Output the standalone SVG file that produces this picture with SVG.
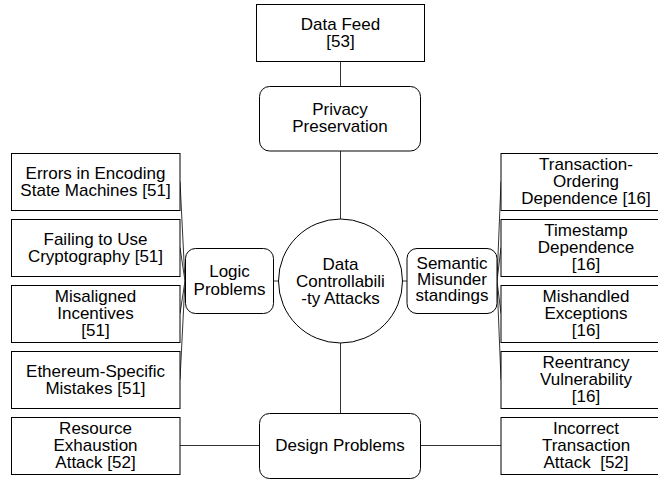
<svg xmlns="http://www.w3.org/2000/svg" width="658" height="480" viewBox="0 0 658 480">
<style>
.box{fill:#fff;stroke:#000;stroke-width:1}
.rbox{fill:#fff;stroke:#000;stroke-width:1}
.conn{stroke:#333;stroke-width:1;fill:none}
text{font-family:"Liberation Sans",Arial,sans-serif;font-size:17px;fill:#000;text-anchor:middle;white-space:pre}
</style>
<rect width="658" height="480" fill="#fff"/>
<g id="connectors">
<line class="conn" x1="340.5" y1="61" x2="340.5" y2="86"/>
<line class="conn" x1="340.5" y1="151" x2="340.5" y2="219"/>
<line class="conn" x1="340.5" y1="343" x2="340.5" y2="413"/>
<line class="conn" x1="273" y1="281" x2="278.5" y2="281"/>
<line class="conn" x1="402.5" y1="281" x2="407" y2="281"/>
<line class="conn" x1="180" y1="181.5" x2="185" y2="281"/>
<line class="conn" x1="180" y1="247.5" x2="185" y2="281"/>
<line class="conn" x1="180" y1="313.5" x2="185" y2="281"/>
<line class="conn" x1="180" y1="379.5" x2="185" y2="281"/>
<line class="conn" x1="501" y1="181.5" x2="497" y2="281"/>
<line class="conn" x1="501" y1="247.5" x2="497" y2="281"/>
<line class="conn" x1="501" y1="313.5" x2="497" y2="281"/>
<line class="conn" x1="501" y1="379.5" x2="497" y2="281"/>
<line class="conn" x1="180" y1="445.5" x2="259" y2="445.5"/>
<line class="conn" x1="420" y1="445.5" x2="501" y2="445.5"/>
</g>
<g id="data-feed">
<rect class="box" x="256.5" y="4.5" width="168" height="57"/>
<text x="340.5"><tspan x="340.5" y="29.5">Data Feed</tspan><tspan x="340.5" y="46.5">[53]</tspan></text>
</g>
<g id="privacy-preservation">
<rect class="rbox" x="259.5" y="86.5" width="161" height="64.5" rx="10"/>
<text><tspan x="340" y="115">Privacy</tspan><tspan x="340" y="132">Preservation</tspan></text>
</g>
<g id="center">
<circle class="box" cx="340.5" cy="281" r="62"/>
<text><tspan x="340.5" y="269.5">Data</tspan><tspan x="340.5" y="286.5">Controllabili</tspan><tspan x="340.5" y="303.5">-ty Attacks</tspan></text>
</g>
<g id="logic-problems">
<rect class="rbox" x="185.5" y="248.5" width="88" height="65" rx="10"/>
<text><tspan x="229.5" y="277">Logic</tspan><tspan x="229.5" y="294.5">Problems</tspan></text>
</g>
<g id="semantic-misunderstandings">
<rect class="rbox" x="407" y="248.5" width="90" height="65" rx="10"/>
<text><tspan x="452" y="268.5">Semantic</tspan><tspan x="452" y="284.5">Misunder</tspan><tspan x="452" y="300.5">standings</tspan></text>
</g>
<g id="design-problems">
<rect class="rbox" x="259.5" y="413.5" width="161" height="65" rx="10"/>
<text x="340" y="451">Design Problems</text>
</g>
<g id="errors-encoding">
<rect class="box" x="11.5" y="153.5" width="168.5" height="57"/>
<text><tspan x="95.5" y="178.5">Errors in Encoding</tspan><tspan x="95.5" y="196">State Machines [51]</tspan></text>
</g>
<g id="failing-crypto">
<rect class="box" x="11.5" y="219.5" width="168.5" height="57"/>
<text><tspan x="95.5" y="244.5">Failing to Use</tspan><tspan x="95.5" y="262">Cryptography [51]</tspan></text>
</g>
<g id="misaligned-incentives">
<rect class="box" x="11.5" y="285.5" width="168.5" height="57"/>
<text><tspan x="95.5" y="301.5">Misaligned</tspan><tspan x="95.5" y="318.5">Incentives</tspan><tspan x="95.5" y="335.5">[51]</tspan></text>
</g>
<g id="ethereum-mistakes">
<rect class="box" x="11.5" y="351.5" width="168.5" height="57"/>
<text><tspan x="95.5" y="376.5">Ethereum-Specific</tspan><tspan x="95.5" y="394">Mistakes [51]</tspan></text>
</g>
<g id="resource-exhaustion">
<rect class="box" x="11.5" y="417.5" width="168.5" height="57"/>
<text><tspan x="95.5" y="434">Resource</tspan><tspan x="95.5" y="451">Exhaustion</tspan><tspan x="95.5" y="468">Attack [52]</tspan></text>
</g>
<g id="transaction-ordering">
<rect class="box" x="501" y="153.5" width="170" height="57"/>
<text><tspan x="586" y="169.5">Transaction-</tspan><tspan x="586" y="186.5">Ordering</tspan><tspan x="586" y="203.5">Dependence [16]</tspan></text>
</g>
<g id="timestamp-dependence">
<rect class="box" x="501" y="219.5" width="170" height="57"/>
<text><tspan x="586" y="235.5">Timestamp</tspan><tspan x="586" y="252.5">Dependence</tspan><tspan x="586" y="269.5">[16]</tspan></text>
</g>
<g id="mishandled-exceptions">
<rect class="box" x="501" y="285.5" width="170" height="57"/>
<text><tspan x="586" y="301.5">Mishandled</tspan><tspan x="586" y="318.5">Exceptions</tspan><tspan x="586" y="335.5">[16]</tspan></text>
</g>
<g id="reentrancy">
<rect class="box" x="501" y="351.5" width="170" height="57"/>
<text><tspan x="586" y="367.5">Reentrancy</tspan><tspan x="586" y="384.5">Vulnerability</tspan><tspan x="586" y="401.5">[16]</tspan></text>
</g>
<g id="incorrect-transaction">
<rect class="box" x="501" y="417.5" width="170" height="57"/>
<text><tspan x="586" y="434">Incorrect</tspan><tspan x="586" y="451">Transaction</tspan><tspan x="586" y="468">Attack  [52]</tspan></text>
</g>
</svg>
